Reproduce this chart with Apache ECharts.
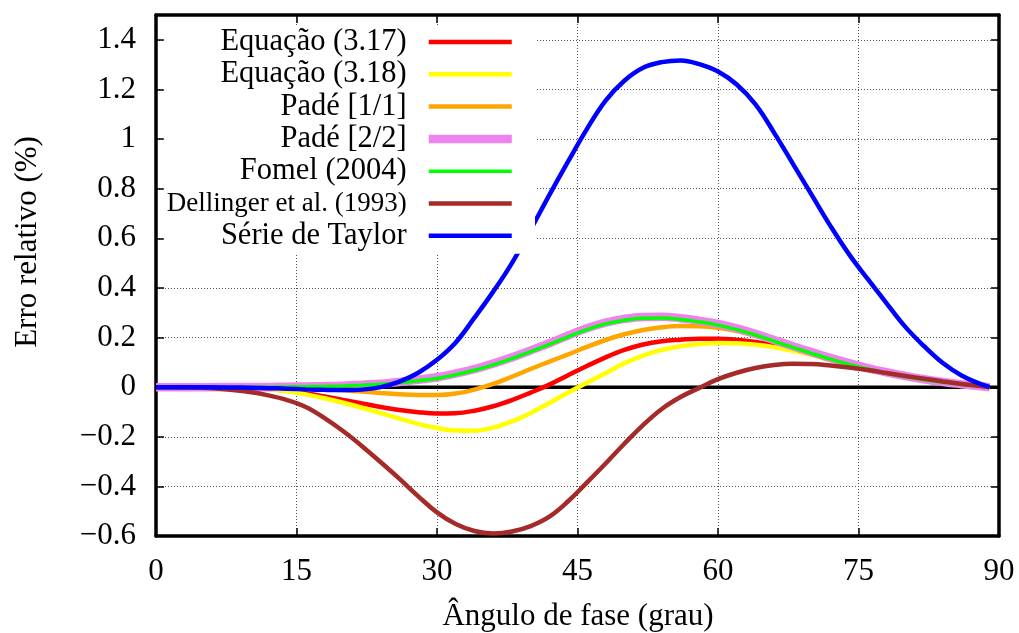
<!DOCTYPE html>
<html>
<head>
<meta charset="utf-8">
<script src="https://cdn.jsdelivr.net/npm/echarts@6/dist/echarts.min.js"></script>
<style>
  html, body { margin: 0; padding: 0; background: #fff; }
  #chart { width: 1019px; height: 633px; }
</style>
</head>
<body>
<div id="chart"></div>
<script>
// Phase angle (degrees) shared by every curve
const angles = [0, 5, 10, 12, 14, 16, 18, 20, 22, 24, 26, 28, 30, 32, 34, 36, 38, 40, 42, 44,
  46, 48, 50, 52, 54, 56, 58, 60, 62, 64, 66, 68, 70, 72, 74, 76, 78, 80, 82, 84, 86, 88, 89];

// Relative error (%) of each approximation
const eq317 = [0, 0, -0.004, -0.008, -0.015, -0.025, -0.038, -0.052, -0.066, -0.08, -0.092, -0.101, -0.106, -0.105, -0.095, -0.077, -0.052, -0.022, 0.01, 0.048,
  0.085, 0.12, 0.15, 0.172, 0.185, 0.191, 0.195, 0.195, 0.191, 0.182, 0.169, 0.152, 0.132, 0.11, 0.089, 0.07, 0.054, 0.04, 0.028, 0.018, 0.01, 0.004, 0];
const eq318 = [0, 0, -0.004, -0.009, -0.017, -0.029, -0.045, -0.063, -0.083, -0.105, -0.127, -0.148, -0.165, -0.175, -0.176, -0.163, -0.138, -0.104, -0.064, -0.022,
  0.018, 0.056, 0.096, 0.127, 0.15, 0.165, 0.174, 0.178, 0.177, 0.171, 0.161, 0.147, 0.13, 0.109, 0.088, 0.069, 0.053, 0.039, 0.027, 0.017, 0.009, 0.003, 0];
const pade11 = [0, 0, -0.001, -0.002, -0.003, -0.005, -0.009, -0.013, -0.018, -0.024, -0.029, -0.032, -0.032, -0.026, -0.01, 0.013, 0.042, 0.073, 0.103, 0.132,
  0.162, 0.19, 0.213, 0.23, 0.241, 0.246, 0.245, 0.239, 0.226, 0.207, 0.183, 0.158, 0.133, 0.11, 0.089, 0.071, 0.055, 0.041, 0.029, 0.019, 0.01, 0.004, 0];
const pade22 = [0, 0, 0.001, 0.001, 0.002, 0.003, 0.004, 0.006, 0.01, 0.014, 0.021, 0.03, 0.04, 0.055, 0.073, 0.095, 0.12, 0.148, 0.177, 0.208,
  0.237, 0.26, 0.275, 0.283, 0.284, 0.278, 0.268, 0.255, 0.237, 0.215, 0.19, 0.165, 0.141, 0.118, 0.097, 0.077, 0.06, 0.045, 0.032, 0.021, 0.012, 0.004, 0];
const fomel = [0, 0, 0, 0, 0.001, 0.002, 0.003, 0.005, 0.008, 0.012, 0.018, 0.026, 0.035, 0.05, 0.068, 0.09, 0.115, 0.143, 0.172, 0.203,
  0.232, 0.255, 0.27, 0.278, 0.279, 0.273, 0.263, 0.25, 0.232, 0.21, 0.185, 0.16, 0.136, 0.113, 0.092, 0.073, 0.056, 0.042, 0.03, 0.02, 0.011, 0.004, 0];
const dellinger = [0, -0.002, -0.02, -0.033, -0.052, -0.08, -0.125, -0.178, -0.238, -0.303, -0.37, -0.44, -0.505, -0.552, -0.58, -0.59, -0.582, -0.56, -0.522, -0.46,
  -0.385, -0.308, -0.228, -0.153, -0.088, -0.04, -0.003, 0.032, 0.058, 0.077, 0.089, 0.094, 0.093, 0.087, 0.079, 0.069, 0.057, 0.045, 0.034, 0.023, 0.013, 0.005, 0];
const taylor = [0, 0, -0.002, -0.004, -0.006, -0.009, -0.011, -0.012, -0.01, 0, 0.022, 0.058, 0.11, 0.18, 0.28, 0.385, 0.5, 0.635, 0.775, 0.91,
  1.04, 1.155, 1.235, 1.287, 1.31, 1.317, 1.302, 1.272, 1.22, 1.14, 1.025, 0.9, 0.775, 0.65, 0.535, 0.435, 0.338, 0.243, 0.165, 0.097, 0.047, 0.013, 0];

const xTicks = { min: 0, max: 90, step: 15 };
const yTicks = { min: -0.6, max: 1.5, step: 0.2 };

const FONT = 'Liberation Serif';

const curves = [
  { name: 'Equação (3.17)', data: eq317, color: '#ff0000', width: 4.5 },
  { name: 'Equação (3.18)', data: eq318, color: '#ffff00', width: 4.5 },
  { name: 'Padé [1/1]', data: pade11, color: '#ffa500', width: 4.5 },
  { name: 'Padé [2/2]', data: pade22, color: '#ee82ee', width: 8.5 },
  { name: 'Fomel (2004)', data: fomel, color: '#00ff00', width: 3.5 },
  { name: 'Dellinger et al. (1993)', data: dellinger, color: '#a52a2a', width: 4.5 },
  { name: 'Série de Taylor', data: taylor, color: '#0000ff', width: 4.5 }
];
// the long key entry is set in a smaller size
const smallKey = 'Dellinger et al. (1993)';

const pair = (ys) => angles.map((a, i) => [a, ys[i]]);

const series = [{
  name: 'zero',
  type: 'line',
  data: [[xTicks.min, 0], [xTicks.max, 0]],
  symbol: 'none',
  lineStyle: { color: '#000', width: 3.5 },
  silent: true,
  z: 1
}].concat(curves.map(c => ({
  name: c.name,
  type: 'line',
  data: pair(c.data),
  smooth: 0.4,
  symbol: 'none',
  lineStyle: { color: c.color, width: c.width },
  itemStyle: { color: c.color },
  z: 2
})));

const fmtY = v => {
  if (v > 1.45) return '';
  const r = Math.round(v * 10) / 10;
  if (r === 0) return '0';
  return String(r).replace('-', '\u2212');
};

const tickStyle = { inside: true, length: 8, lineStyle: { color: '#000', width: 1.5 } };
const frameLine = { show: true, onZero: false, lineStyle: { color: '#000', width: 3.5 } };
const gridLine = { show: true, lineStyle: { color: '#555', width: 1, type: [1, 2] } };

const chart = echarts.init(document.getElementById('chart'), null, { renderer: 'canvas' });
chart.setOption({
  animation: false,
  backgroundColor: '#fff',
  textStyle: { fontFamily: FONT },
  grid: { left: 156, right: 20, top: 15, bottom: 97 },
  legend: {
    data: curves.map(c => ({
      name: c.name,
      lineStyle: { color: c.color, width: c.width },
      itemStyle: { color: c.color, opacity: 0 }
    })),
    orient: 'vertical',
    align: 'right',
    right: 484,
    top: 26,
    padding: [0, 19, 2, 3],
    backgroundColor: '#fff',
    itemWidth: 83,
    itemHeight: 2,
    itemGap: 0.3,
    selectedMode: false,
    formatter: name => name === smallKey ? '{s|' + name + '}' : name,
    textStyle: {
      fontFamily: FONT, fontSize: 30.5, color: '#000', lineHeight: 32, padding: [0, 17, 0, 0],
      rich: { s: { fontFamily: FONT, fontSize: 27, lineHeight: 32, color: '#000' } }
    }
  },
  xAxis: [{
    type: 'value', min: xTicks.min, max: xTicks.max, interval: xTicks.step,
    axisLine: frameLine, axisTick: tickStyle, splitLine: gridLine,
    axisLabel: { fontFamily: FONT, fontSize: 31, color: '#000', margin: 20 }
  }, {
    type: 'value', position: 'top', min: xTicks.min, max: xTicks.max, interval: xTicks.step,
    axisLine: frameLine, axisTick: tickStyle, splitLine: { show: false }, axisLabel: { show: false }
  }],
  yAxis: [{
    type: 'value', min: yTicks.min, max: yTicks.max, interval: yTicks.step,
    axisLine: frameLine, axisTick: tickStyle, splitLine: gridLine,
    axisLabel: { fontFamily: FONT, fontSize: 31, color: '#000', margin: 20, formatter: fmtY }
  }, {
    type: 'value', position: 'right', min: yTicks.min, max: yTicks.max, interval: yTicks.step,
    axisLine: frameLine, axisTick: tickStyle, splitLine: { show: false }, axisLabel: { show: false }
  }],
  graphic: [{
    type: 'text',
    x: 578, y: 617,
    style: { text: 'Ângulo de fase (grau)', font: '31px "Liberation Serif"', fill: '#000', align: 'center', verticalAlign: 'middle' }
  }, {
    type: 'text',
    x: 28, y: 242, rotation: Math.PI / 2,
    style: { text: 'Erro relativo (%)', font: '31px "Liberation Serif"', fill: '#000', align: 'center', verticalAlign: 'middle' }
  }],
  series: series
});
</script>
</body>
</html>
